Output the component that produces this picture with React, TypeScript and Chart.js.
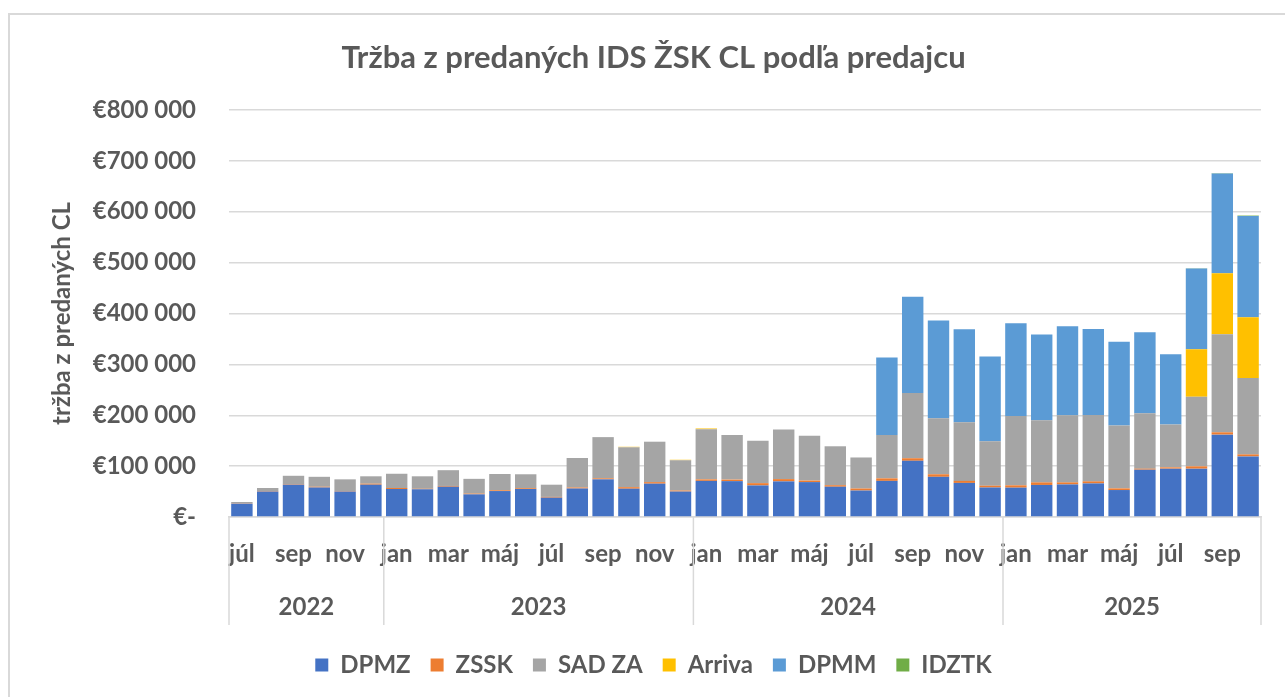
import React, { useEffect, useRef } from "react";
import { Chart, registerables } from "chart.js";

Chart.register(...registerables);

const titleText = "Tržba z predaných IDS ŽSK CL podľa predajcu";
const yAxisTitle = "tržba z predaných CL";

const months = [
  "júl", "aug", "sep", "okt", "nov", "dec",
  "jan", "feb", "mar", "apr", "máj", "jún", "júl", "aug", "sep", "okt", "nov", "dec",
  "jan", "feb", "mar", "apr", "máj", "jún", "júl", "aug", "sep", "okt", "nov", "dec",
  "jan", "feb", "mar", "apr", "máj", "jún", "júl", "aug", "sep", "okt",
];
const years = ["2022", "2023", "2024", "2025"];
const monthsPerYear = [6, 12, 12, 10];

const yTicks = [0, 100000, 200000, 300000, 400000, 500000, 600000, 700000, 800000];

const DPMZ = [
  26000, 50000, 63500, 58000, 50000, 63500,
  55000, 54500, 59500, 44500, 51000, 55000, 38000, 56000, 74000, 55600, 65500, 50000,
  71000, 70500, 62000, 70000, 68600, 59500, 52000, 71000, 110500, 79000, 67000, 58000,
  57700, 63000, 64000, 66000, 53000, 93000, 95000, 95000, 161900, 119000,
];
const ZSSK = [
  500, 1000, 1000, 1500, 1000, 2000,
  2000, 1000, 1500, 1500, 1500, 1500, 1500, 2000, 2000, 3000, 3000, 2000,
  3000, 3000, 4500, 4500, 3000, 3000, 4000, 5000, 5000, 5000, 4000, 3500,
  4600, 5000, 4000, 4000, 3300, 2000, 2600, 4600, 4600, 4000,
];
const SAD_ZA = [
  3000, 6000, 16500, 19500, 23000, 14500,
  28000, 24500, 31000, 29000, 32000, 27500, 24000, 58000, 81000, 78400, 79500, 59500,
  98500, 87500, 83500, 97500, 87900, 76500, 61000, 85400, 128300, 110000, 115000, 87500,
  136300, 122000, 132000, 130500, 123700, 109000, 84400, 137000, 192500, 150000,
];
const Arriva = [
  0, 0, 0, 0, 0, 0,
  0, 0, 0, 0, 0, 0, 0, 0, 0, 1000, 0, 1000,
  1500, 0, 0, 0, 0, 0, 0, 0, 0, 0, 0, 0,
  0, 0, 0, 0, 0, 0, 0, 93000, 120000, 119500,
];
const DPMM = [
  0, 0, 0, 0, 0, 0,
  0, 0, 0, 0, 0, 0, 0, 0, 0, 0, 0, 0,
  0, 0, 0, 0, 0, 0, 0, 152300, 189000, 192000, 183000, 166700,
  182000, 168500, 175000, 169000, 164700, 159000, 138000, 159000, 196000, 199000,
];
const IDZTK = [
  0, 0, 0, 0, 0, 0,
  0, 0, 0, 0, 0, 0, 0, 0, 0, 0, 0, 0,
  0, 0, 0, 0, 0, 0, 0, 0, 0, 0, 0, 0,
  0, 0, 0, 0, 0, 0, 0, 500, 700, 1000,
];

const seriesNames = ["DPMZ", "ZSSK", "SAD ZA", "Arriva", "DPMM", "IDZTK"];
const seriesValues = [DPMZ, ZSSK, SAD_ZA, Arriva, DPMM, IDZTK];
const seriesColors = ["#4472C4", "#ED7D31", "#A5A5A5", "#FFC000", "#5B9BD5", "#70AD47"];

const TEXT = "#595959";
const GRID = "#d9d9d9";
const FONT = "Lato, 'Open Sans', sans-serif";

const yearPlugin = {
  id: "yearGroups",
  afterDraw(chart: any) {
    const x = chart.scales.x;
    const area = chart.chartArea;
    const ctx = chart.ctx;
    const step = x.getPixelForValue(1) - x.getPixelForValue(0);
    const lineBottom = area.bottom + 108;
    ctx.save();
    ctx.strokeStyle = GRID;
    ctx.lineWidth = 1.5;
    let start = 0;
    const bounds: number[] = [x.getPixelForValue(0) - step / 2];
    monthsPerYear.forEach((n) => {
      start += n;
      bounds.push(x.getPixelForValue(start - 1) + step / 2);
    });
    bounds.forEach((bx) => {
      ctx.beginPath();
      ctx.moveTo(bx, area.bottom);
      ctx.lineTo(bx, lineBottom);
      ctx.stroke();
    });
    ctx.fillStyle = TEXT;
    ctx.font = `bold 24px ${FONT}`;
    ctx.textAlign = "center";
    ctx.textBaseline = "middle";
    years.forEach((yr, i) => {
      ctx.fillText(yr, (bounds[i] + bounds[i + 1]) / 2, area.bottom + 90);
    });
    ctx.restore();
  },
};

export default function App() {
  const ref = useRef<HTMLCanvasElement | null>(null);

  useEffect(() => {
    let chart: Chart | null = null;
    let cancelled = false;
    const make = () => {
      if (cancelled || !ref.current) return;
      chart = new Chart(ref.current, {
        type: "bar",
        data: {
          labels: months,
          datasets: seriesNames.map((name, i) => ({
            label: name,
            data: seriesValues[i],
            backgroundColor: seriesColors[i],
            borderWidth: 0,
            barPercentage: 0.83,
            categoryPercentage: 1,
          })),
        },
        options: {
          responsive: false,
          animation: false,
          layout: { padding: { left: 46, right: 24, top: 0, bottom: 10 } },
          plugins: {
            title: {
              display: true,
              text: titleText,
              color: TEXT,
              font: { family: FONT, size: 31, weight: "bold" },
              padding: { top: 39.4, bottom: 33.4 },
            },
            legend: {
              position: "bottom",
              labels: {
                color: TEXT,
                boxWidth: 13,
                boxHeight: 13,
                padding: 20,
                font: { family: FONT, size: 24, weight: "bold" },
              },
            },
            tooltip: { enabled: false },
          },
          scales: {
            x: {
              stacked: true,
              grid: { display: false, drawTicks: false },
              border: { display: true, color: GRID, width: 1.5 },
              ticks: {
                autoSkip: false,
                maxRotation: 0,
                minRotation: 0,
                padding: 23,
                color: TEXT,
                font: { family: FONT, size: 24, weight: "bold" },
                callback: (_v: any, i: number) => (i % 2 === 0 ? months[i] : ""),
              },
              afterFit: (s: any) => {
                s.height = 116;
              },
            },
            y: {
              stacked: true,
              min: 0,
              max: 800000,
              afterBuildTicks: (s: any) => {
                s.ticks = yTicks.map((v) => ({ value: v }));
              },
              ticks: {
                padding: 33,
                color: TEXT,
                font: { family: FONT, size: 24, weight: "bold" },
                callback: (v: any) =>
                  Number(v) === 0
                    ? "€-"
                    : "€" + Number(v).toLocaleString("en-US").replace(/,/g, " "),
              },
              grid: { color: GRID, lineWidth: 1.5, drawTicks: false },
              border: { display: false },
              title: {
                display: true,
                text: yAxisTitle,
                color: TEXT,
                font: { family: FONT, size: 24, weight: "bold" },
                padding: { top: 2, bottom: 0 },
              },
              afterFit: (s: any) => {
                s.width = 183;
              },
            },
          },
        },
        plugins: [yearPlugin],
      } as any);
    };
    const fontsReady = (document as any).fonts
      ? Promise.all([
          (document as any).fonts.load(`bold 24px Lato`),
          (document as any).fonts.load(`bold 31px Lato`),
        ]).catch(() => null)
      : Promise.resolve(null);
    fontsReady.then(make);
    return () => {
      cancelled = true;
      if (chart) chart.destroy();
    };
  }, []);

  return (
    <div
      style={{
        position: "fixed",
        left: 0,
        top: 0,
        width: 1285,
        height: 697,
        overflow: "hidden",
        background: "#ffffff",
      }}
    >
      <div
        style={{
          position: "absolute",
          left: 8,
          top: 13,
          width: 1300,
          height: 720,
          borderLeft: "2px solid #d9d9d9",
          borderTop: "2px solid #d9d9d9",
        }}
      />
      <canvas
        ref={ref}
        width={1285}
        height={697}
        style={{ position: "absolute", left: 0, top: 0, display: "block" }}
      />
    </div>
  );
}
